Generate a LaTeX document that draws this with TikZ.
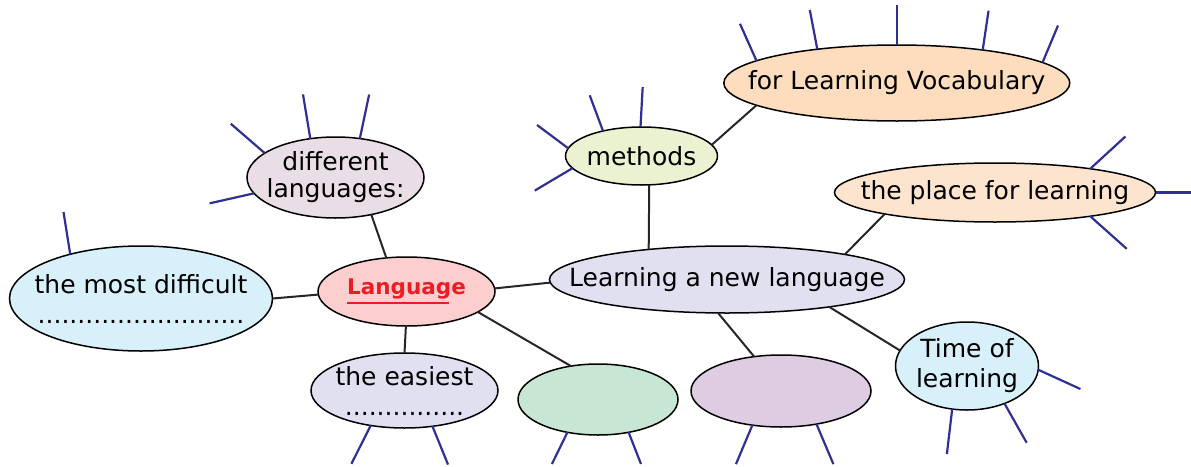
\documentclass[tikz,border=0pt]{standalone}
\usepackage{fontspec}
\setmainfont{DejaVu Sans}
\usetikzlibrary{shapes.geometric}

\definecolor{spokeblue}{RGB}{46,49,146}
\definecolor{wordred}{RGB}{237,28,36}
\definecolor{fillred}{RGB}{252,206,206}
\definecolor{fillsky}{RGB}{215,240,250}
\definecolor{fillrose}{RGB}{234,222,230}
\definecolor{filllilac}{RGB}{225,224,240}
\definecolor{filllime}{RGB}{235,242,210}
\definecolor{fillpeach}{RGB}{253,221,190}
\definecolor{fillapricot}{RGB}{253,228,206}
\definecolor{fillmint}{RGB}{200,230,212}
\definecolor{fillmauve}{RGB}{222,204,226}

\begin{document}
\begin{tikzpicture}[x=1pt, y=-1pt,
    bubble/.style={ellipse, draw=black, line width=1.5pt,
      inner sep=-60pt, outer sep=0pt, align=center,
      font=\fontsize{25}{30}\selectfont},
    link/.style={draw=black!85, line width=2pt},
    spoke/.style={draw=spokeblue, line width=2.2pt}
  ]

  \useasboundingbox (0,0) rectangle (1191,466);

  % left part
  \node (language) [bubble, fill=fillred, minimum width=177pt, minimum height=69pt]
    at (406.5,291.5)
    {\fontsize{21.5}{26}\selectfont\color{wordred}\rlap{\rule[-9pt]{102pt}{2pt}}\textbf{Language}};
  \node (most difficult) [bubble, fill=fillsky, minimum width=263pt, minimum height=105pt]
    at (141,298.5) {the most difficult\\..........................};
  \node (different languages) [bubble, fill=fillrose, minimum width=177pt, minimum height=81pt]
    at (335.5,177.5) {different\\[-3pt]languages:};
  \node (easiest) [bubble, fill=filllilac, minimum width=187pt, minimum height=75pt]
    at (404.5,390.5) {the easiest\\...............};
  \node (green blank) [bubble, fill=fillmint, minimum width=160pt, minimum height=71pt]
    at (598,399.5) {};

  % right part
  \node (learning) [bubble, fill=filllilac, minimum width=355pt, minimum height=67pt]
    at (727,279.5) {Learning a new language};
  \node (methods) [bubble, fill=filllime, minimum width=152pt, minimum height=58pt]
    at (641.5,156) {methods};
  \node (vocabulary) [bubble, fill=fillpeach, minimum width=346pt, minimum height=76pt]
    at (896.8,83) {for Learning Vocabulary};
  \node (place) [bubble, fill=fillapricot, minimum width=321pt, minimum height=59pt]
    at (995,192.5) {the place for learning};
  \node (time) [bubble, fill=fillsky, minimum width=143pt, minimum height=88pt]
    at (967,366) {Time of\\learning};
  \node (mauve blank) [bubble, fill=fillmauve, minimum width=180pt, minimum height=72pt]
    at (781,391) {};

  {
      \draw[link] (most difficult.0) -- (language.182);
      \draw[link] (different languages.-46) -- (language.121);
      \draw[link] (language.-91) -- (easiest.90);
      \draw[link] (language.-16) -- (green blank.129);
      \draw[link] (language.2) -- (learning.181);
      \draw[link] (methods.-75) -- (learning.159);
      \draw[link] (methods.9) -- (vocabulary.-171);
      \draw[link] (learning.12) -- (place.-169);
      \draw[link] (learning.-105) -- (mauve blank.128);
      \draw[link] (learning.-15.5) -- (time.167);
  };

  % lines to write on
  \draw[spoke] (different languages.161) -- ++(-34,-29.4);
  \draw[spoke] (different languages.123) -- ++(-7.3,-44.3);
  \draw[spoke] (different languages.58.6) -- ++(9.3,-44);
  \draw[spoke] (different languages.-169) -- ++(-44.4,10);
  \draw[spoke] (most difficult.148.7) -- ++(-6.7,-42.3);
  \draw[spoke] (easiest.-134) -- ++(-19.3,38.3);
  \draw[spoke] (easiest.-52) -- ++(15.6,38.3);
  \draw[spoke] (green blank.-133) -- ++(-15.5,31.7);
  \draw[spoke] (green blank.-47.6) -- ++(12.4,31.7);
  \draw[spoke] (mauve blank.-130.5) -- ++(-16.4,39);
  \draw[spoke] (mauve blank.-43.8) -- ++(16.9,40);
  \draw[spoke] (methods.147.4) -- ++(-13.3,-35.7);
  \draw[spoke] (methods.92) -- ++(2.2,-40);
  \draw[spoke] (methods.174) -- ++(-31.2,-23.3);
  \draw[spoke] (methods.-170) -- ++(-37.7,22.4);
  \draw[spoke] (vocabulary.171) -- ++(-16.5,-37);
  \draw[spoke] (vocabulary.157.8) -- ++(-7.5,-39.3);
  \draw[spoke] (vocabulary.90) -- ++(0,-40);
  \draw[spoke] (vocabulary.21.8) -- ++(5.8,-39.3);
  \draw[spoke] (vocabulary.8.9) -- ++(15.5,-37);
  \draw[spoke] (place.14) -- ++(35.2,-32.3);
  \draw[spoke] (place.0) -- ++(36,0);
  \draw[spoke] (place.-14) -- ++(36.5,32.6);
  \draw[spoke] (time.-3) -- ++(42.2,19.3);
  \draw[spoke] (time.-109) -- ++(-5.3,45);
  \draw[spoke] (time.-45) -- ++(22.2,39.3);
\end{tikzpicture}
\end{document}
